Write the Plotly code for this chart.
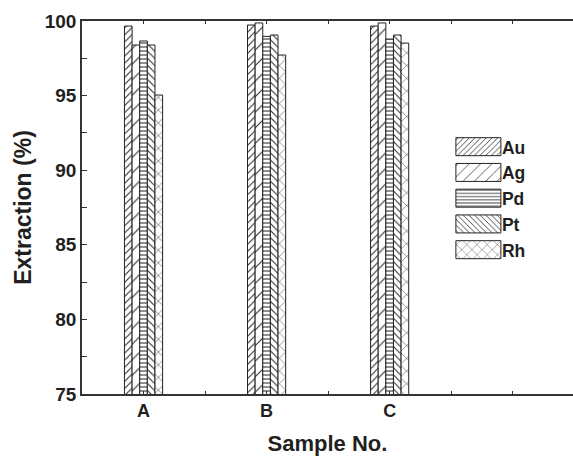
import plotly.graph_objects as go

samples = ["A", "B", "C"]
metals = ["Au", "Ag", "Pd", "Pt", "Rh"]
au = [99.66, 99.73, 99.66]
ag = [98.39, 99.87, 99.87]
pd_ = [98.66, 98.97, 98.79]
pt = [98.39, 99.06, 99.06]
rh = [95.04, 97.72, 98.52]
series = [au, ag, pd_, pt, rh]
patterns = [("/", 5, 0.2), ("/", 11, 0.09), ("-", 4, 0.25), ("\\", 5, 0.2), ("x", 9, 0.1)]

xpos = list(range(1, len(samples) + 1))

fig = go.Figure()
for name, vals, (shape, size, sol) in zip(metals, series, patterns):
    fig.add_trace(go.Bar(
        x=xpos, y=vals, name=name,
        marker=dict(color="white",
                    line=dict(color="#222", width=1),
                    pattern=dict(shape=shape, size=size, solidity=sol,
                                 fgcolor="#222", bgcolor="white", fillmode="replace")),
    ))

font_family = "Liberation Sans, Arial, sans-serif"
fig.update_layout(
    width=573, height=456,
    margin=dict(l=82, r=0, t=21, b=62, autoexpand=False),
    plot_bgcolor="white", paper_bgcolor="white",
    barmode="group", bargap=0.69, bargroupgap=0,
    font=dict(family=font_family, size=18, color="#231f20"),
    showlegend=True,
    legend=dict(x=0.733, y=0.711, xanchor="left", yanchor="top",
                font=dict(size=17.5, family=font_family, weight="bold"),
                itemwidth=50, tracegroupgap=0, bgcolor="rgba(0,0,0,0)"),
    xaxis=dict(range=[0.5, 4.49], tickvals=xpos, ticktext=samples, automargin=False,
               ticks="inside", ticklen=3, tickcolor="#333",
               minor=dict(dtick=0.5, tick0=0.5, ticks="inside", ticklen=3, tickcolor="#333"),
               showline=True, linecolor="#333", linewidth=1.5, mirror="ticks",
               showgrid=False, zeroline=False,
               tickfont=dict(size=18, weight="bold"),
               title=dict(text="Sample No.", font=dict(size=22, weight="bold"), standoff=24)),
    yaxis=dict(range=[75, 100], dtick=5, ticks="inside", ticklen=5, tickcolor="#333",
               automargin=False,
               minor=dict(dtick=2.5, ticks="inside", ticklen=5, tickcolor="#333"),
               showline=True, linecolor="#333", linewidth=1.5, mirror=False,
               showgrid=False, zeroline=False,
               tickfont=dict(size=19, weight="bold"),
               title=dict(text="Extraction (%)", font=dict(size=23, weight="bold"), standoff=7)),
)

post = """
document.body.style.margin = '0';
document.body.style.overflow = 'hidden';
var gd = document.getElementById('{plot_id}');
function fixLegend(){
  gd.querySelectorAll('.legend .legendpoints path').forEach(function(p){
    p.setAttribute('d','M-16,-9H29V9H-16Z');
  });
}
fixLegend();
gd.on('plotly_afterplot', fixLegend);
"""
fig.write_html("out.html", post_script=post, config={"displayModeBar": False})
